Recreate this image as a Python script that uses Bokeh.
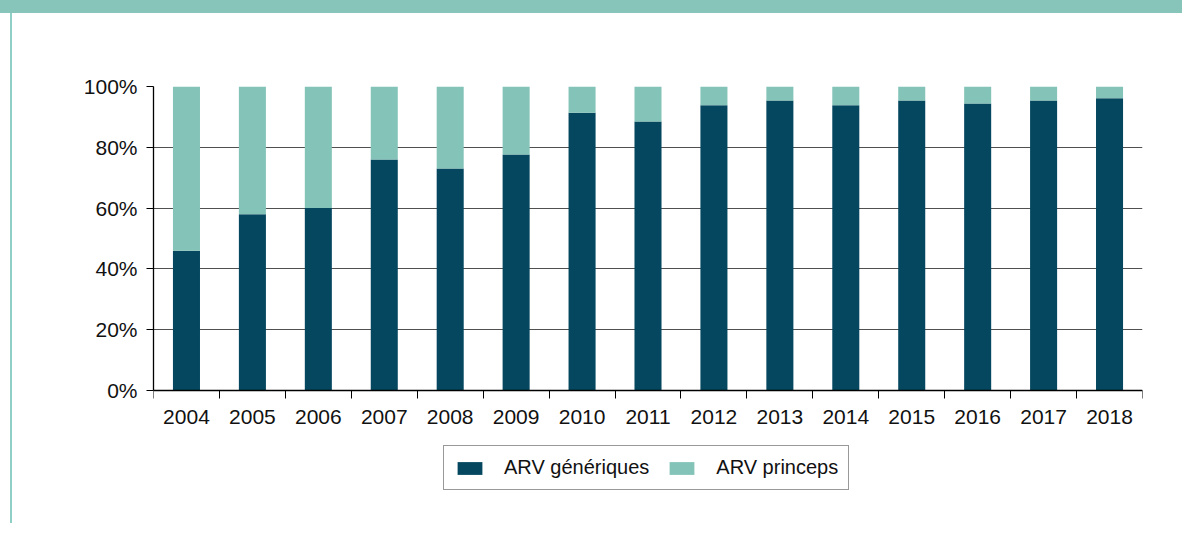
from bokeh.plotting import figure
from bokeh.models import (Range1d, FixedTicker, PrintfTickFormatter, Legend, LegendItem,
                          ColumnDataSource)
from bokeh.embed import file_html
from bokeh.resources import INLINE

# ---- data ----
years = [2004, 2005, 2006, 2007, 2008, 2009, 2010, 2011, 2012, 2013, 2014, 2015, 2016, 2017, 2018]
generiques = [46.0, 58.0, 60.0, 76.0, 73.0, 77.6, 91.4, 88.5, 93.8, 95.4, 93.8, 95.4, 94.4, 95.4, 96.1]
princeps = [round(100 - g, 1) for g in generiques]
y_ticks = [0, 20, 40, 60, 80, 100]
series_labels = ["ARV génériques", "ARV princeps"]

DARK = "#04475f"
LIGHT = "#84c3b8"
BAND = "#87c4b9"
LINE = "#8fcfc6"
FONT = "Liberation Sans"

W, H = 1182, 523
TOP, LEFT, RIGHT = 86, 153, 40
AXIS_Y = 390                     # pixel row of the 0% line
px_per_unit = (AXIS_Y - TOP) / 100.0
y_lo = -(H - AXIS_Y) / px_per_unit   # frame extends below 0 to hold labels and legend

src = ColumnDataSource(dict(year=years, gen=generiques, pri=princeps))

p = figure(width=W, height=H, output_backend="svg", toolbar_location=None,
           x_range=Range1d(years[0] - 0.5, years[-1] + 0.5), y_range=Range1d(y_lo, 100),
           min_border_left=LEFT, min_border_right=RIGHT, min_border_top=TOP, min_border_bottom=0)
p.outline_line_color = None
p.background_fill_color = "white"
p.border_fill_alpha = 0
p.styles = {
    "background-color": "white",
    "background-image": f"linear-gradient({BAND}, {BAND}), linear-gradient({LINE}, {LINE})",
    "background-size": "100% 13px, 2px 100%",
    "background-position": "0 0, 10px 0",
    "background-repeat": "no-repeat",
}

rs = p.vbar_stack(["gen", "pri"], x="year", width=0.41, color=[DARK, LIGHT],
                  line_color=None, source=src)

# x axis drawn at the 0 line
xa = p.xaxis[0]
xa.fixed_location = 0
xa.ticker = FixedTicker(ticks=years, minor_ticks=[y - 0.5 for y in years] + [years[-1] + 0.5])
xa.formatter = PrintfTickFormatter(format="%d")
xa.major_tick_out = 0
xa.major_tick_in = 0
xa.minor_tick_out = 8
xa.minor_tick_in = 0
xa.minor_tick_line_color = "black"
xa.axis_line_color = "black"
xa.axis_line_width = 1.3
xa.major_label_standoff = 11
xa.major_label_text_font = FONT
xa.major_label_text_font_size = "21px"
xa.major_label_text_color = "#111111"

ya = p.yaxis[0]
ya.bounds = (0, 100)
ya.ticker = FixedTicker(ticks=y_ticks)
ya.formatter = PrintfTickFormatter(format="%d%%")
ya.major_tick_out = 7
ya.major_tick_in = 0
ya.minor_tick_out = 0
ya.minor_tick_in = 0
ya.major_tick_line_color = "black"
ya.axis_line_color = "black"
ya.axis_line_width = 1.3
ya.major_label_standoff = 9
ya.major_label_text_font = FONT
ya.major_label_text_font_size = "21px"
ya.major_label_text_color = "#111111"

p.xgrid.grid_line_color = None
p.ygrid.ticker = FixedTicker(ticks=y_ticks)
p.ygrid.grid_line_color = "#505050"
p.ygrid.grid_line_width = 1

# legend (inside the extended frame, below the axis)
legend = Legend(items=[LegendItem(label=series_labels[0], renderers=[rs[0]]),
                       LegendItem(label=series_labels[1], renderers=[rs[1]])],
                orientation="horizontal", location=(290, 33),
                padding=10, spacing=17, label_standoff=19,
                glyph_width=31, glyph_height=16,
                label_text_font=FONT, label_text_font_size="20px", label_text_color="#111111",
                border_line_color="#333333", border_line_width=1,
                background_fill_color="white", background_fill_alpha=1)
p.add_layout(legend, "center")

open("out.html", "w").write(file_html(p, INLINE))
